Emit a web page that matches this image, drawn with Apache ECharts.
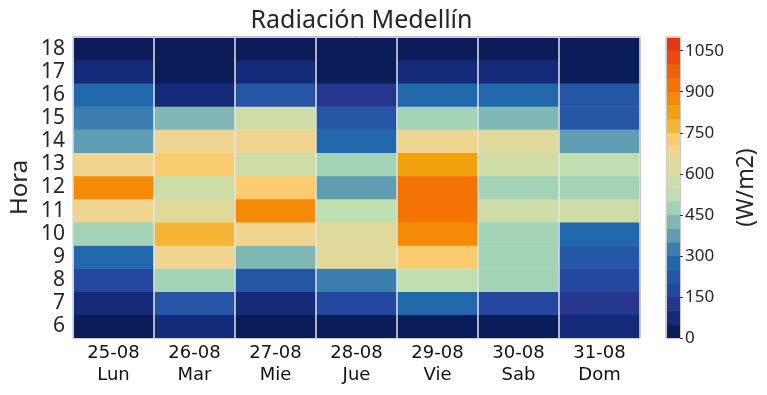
<!DOCTYPE html>
<html>
<head>
<meta charset="utf-8">
<script src="https://cdn.jsdelivr.net/npm/echarts@6/dist/echarts.min.js"></script>
<style>html,body{margin:0;padding:0;background:#fff;}#c{width:767px;height:395px;}</style>
</head>
<body>
<div id="c"></div>
<script>
// ---- data ----
const days = ['25-08','26-08','27-08','28-08','29-08','30-08','31-08'];
const weekdays = ['Lun','Mar','Mie','Jue','Vie','Sab','Dom'];
const hours = ['6','7','8','9','10','11','12','13','14','15','16','17','18'];
// irradiance (W/m2) per day, hours 6..18
const lun = [25,75,175,275,475,675,875,675,375,325,275,75,25];
const mar = [75,225,475,675,775,625,575,725,675,425,75,25,25];
const mie = [25,75,225,425,675,875,725,575,675,575,225,75,25];
const jue = [25,175,325,625,625,525,375,475,275,225,125,25,25];
const vie = [25,275,525,725,875,925,925,825,675,475,275,75,25];
const sab = [25,175,475,475,475,575,475,575,625,425,275,75,25];
const dom = [75,125,175,225,275,575,475,525,375,225,225,25,25];
const dayValues = [lun, mar, mie, jue, vie, sab, dom];
// colour levels (lower bounds, step 50) and colorbar ticks
const levels = [0,50,100,150,200,250,300,350,400,450,500,550,600,650,700,750,800,850,900,950,1000,1050];
const levelStep = 50;
const cbTicks = [0,150,300,450,600,750,900,1050];
const palette = ['#0a1d58','#152a78','#26368f','#2447a0','#2556a5','#2167ab','#3a7fb0','#5e9db2',
  '#80b8b4','#a2d3b7','#bee0b0','#cedca8','#dfd99a','#efd590','#fbcb70','#f4b535',
  '#f0a20c','#f48a06','#f57205','#f06008','#ec4a0f','#e63514'];

// ---- build ----
const heatData = [];
dayValues.forEach((arr, d) => arr.forEach((v, h) => heatData.push([d, h, v])));
const cbData = levels.map((l, i) => [0, i, l + levelStep / 2]);
const pieces = levels.map((l, i) => ({gte: l, lt: l + levelStep, color: palette[i]}));

const txt = '#262626';
const frame = '#cccccc';
const chart = echarts.init(document.getElementById('c'));
chart.setOption({
  animation: false,
  backgroundColor: '#ffffff',
  title: {
    text: 'Radiación Medellín', left: 356.5, top: 3, textAlign: 'center',
    textStyle: {fontFamily: 'Noto Sans', fontSize: 25, fontWeight: 'normal', color: txt}
  },
  grid: [
    {left: 73, top: 37, width: 567, height: 301, outerBoundsMode: 'none', containLabel: false},
    {left: 666, top: 37, width: 14, height: 301, outerBoundsMode: 'none', containLabel: false}
  ],
  visualMap: {type: 'piecewise', show: false, dimension: 2, seriesIndex: [0, 1], pieces: pieces},
  xAxis: [
    {type: 'category', gridIndex: 0, data: days.map((d, i) => d + '\n' + weekdays[i]), z: 10,
     axisLine: {lineStyle: {color: frame, width: 1}},
     axisTick: {inside: true, alignWithLabel: true, length: 4, lineStyle: {color: '#333'}},
     axisLabel: {fontFamily: 'DejaVu Sans', fontSize: 18, color: '#111', lineHeight: 22, margin: 4, interval: 0},
     splitLine: {show: true, lineStyle: {color: '#e4e4e4', width: 1.5}}},
    {type: 'category', gridIndex: 0, position: 'top', data: days, z: 10,
     axisLine: {lineStyle: {color: frame, width: 1}}, axisTick: {show: false}, axisLabel: {show: false}},
    {type: 'category', gridIndex: 1, data: ['cb'], z: 10,
     axisLine: {lineStyle: {color: frame}}, axisTick: {show: false}, axisLabel: {show: false}},
    {type: 'category', gridIndex: 1, position: 'top', data: ['cb'], z: 10,
     axisLine: {lineStyle: {color: frame}}, axisTick: {show: false}, axisLabel: {show: false}}
  ],
  yAxis: [
    {type: 'category', gridIndex: 0, data: hours, z: 10,
     name: 'Hora', nameLocation: 'middle', nameGap: 41, nameMoveOverlap: false,
     nameTextStyle: {fontFamily: 'Noto Sans', fontSize: 24, color: txt},
     axisLine: {lineStyle: {color: frame, width: 1}},
     axisTick: {inside: true, alignWithLabel: true, length: 4, interval: 0, lineStyle: {color: '#333'}},
     axisLabel: {fontFamily: 'Noto Sans', fontSize: 21, color: txt, margin: 8, interval: 0}},
    {type: 'category', gridIndex: 0, position: 'right', data: hours, z: 10,
     axisLine: {lineStyle: {color: frame, width: 1}}, axisTick: {show: false}, axisLabel: {show: false}},
    {type: 'category', gridIndex: 1, data: levels.map(String), z: 10,
     axisLine: {lineStyle: {color: frame}}, axisTick: {show: false}, axisLabel: {show: false}},
    {type: 'value', gridIndex: 1, position: 'right', min: 0, max: levels[levels.length - 1] + levelStep, z: 10,
     name: '(W/m2)', nameLocation: 'middle', nameGap: 55, nameRotate: 90,
     nameTextStyle: {fontFamily: 'Noto Sans', fontSize: 23, color: txt},
     axisLine: {show: true, lineStyle: {color: frame}},
     axisTick: {show: true, length: 3, customValues: cbTicks, lineStyle: {color: '#333'}},
     axisLabel: {fontFamily: 'Noto Sans', fontSize: 17, color: txt, margin: 5, customValues: cbTicks,
                 formatter: v => String(v)},
     splitLine: {show: false}}
  ],
  series: [
    {type: 'heatmap', xAxisIndex: 0, yAxisIndex: 0, data: heatData, itemStyle: {borderWidth: 0}},
    {type: 'heatmap', xAxisIndex: 2, yAxisIndex: 2, data: cbData, itemStyle: {borderWidth: 0}}
  ]
});
</script>
</body>
</html>
